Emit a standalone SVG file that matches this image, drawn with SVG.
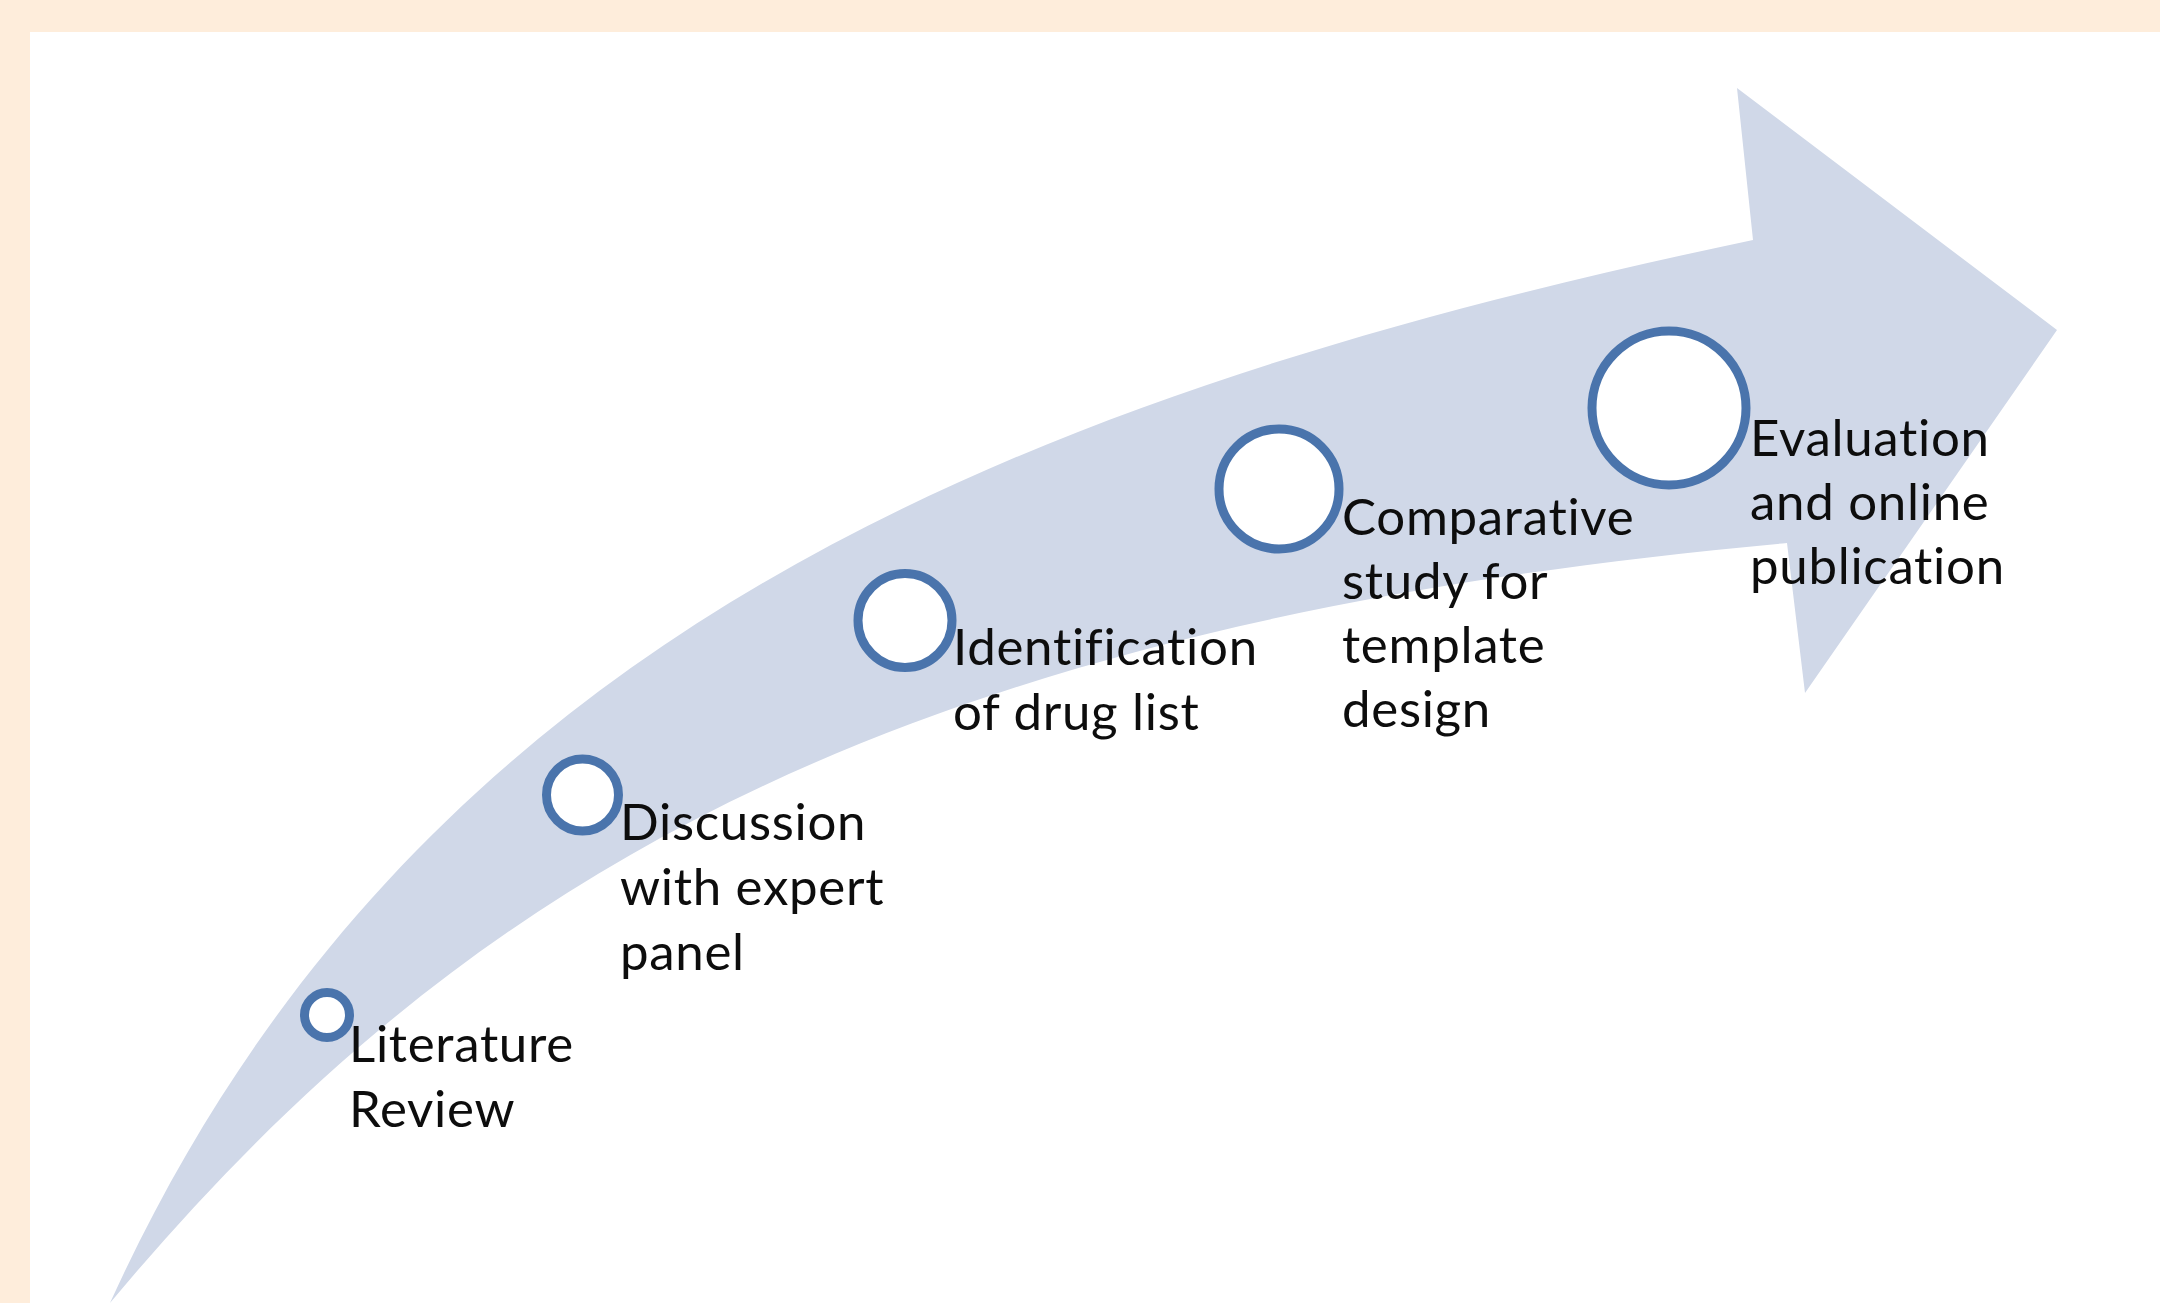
<svg xmlns="http://www.w3.org/2000/svg" width="2160" height="1303" viewBox="0 0 2160 1303">
  <style>
    .step { fill: #ffffff; stroke: #4a74ac; stroke-width: 9; }
    .label { font-family: Lato, "Liberation Sans", sans-serif; font-size: 51px; letter-spacing: 0.7px; font-variant-ligatures: none; fill: #0d0d0d; }
  </style>
  <rect x="0" y="0" width="2160" height="1303" fill="#feeddb"/>
  <rect x="30" y="32" width="2130" height="1271" fill="#ffffff"/>
  <g id="connectors">
    <path id="arrow" fill="#d0d8e8" d="M 110,1303 C 410,643 1003,397.5 1753,240 L 1737,88 L 2057,330 L 1805,693 L 1787,543 C 887,624 460,883 110,1303 Z"/>
  </g>
  <g id="node-literature">
    <circle class="step" cx="327" cy="1015" r="22.5" stroke-width="8"/>
    <text class="label" x="349" y="1062">Literature<tspan x="349" y="1127">Review</tspan></text>
  </g>
  <g id="node-discussion">
    <circle class="step" cx="582.5" cy="795" r="36"/>
    <text class="label" x="620" y="840">Discussion<tspan x="620" y="905">with expert</tspan><tspan x="620" y="970">panel</tspan></text>
  </g>
  <g id="node-identification">
    <circle class="step" cx="905" cy="620.5" r="47"/>
    <text class="label" x="953" y="665">Identification<tspan x="953" y="730">of drug list</tspan></text>
  </g>
  <g id="node-comparative">
    <circle class="step" cx="1279" cy="489" r="60"/>
    <text class="label" x="1342" y="535">Comparative<tspan x="1342" y="599">study for</tspan><tspan x="1342" y="663">template</tspan><tspan x="1342" y="727">design</tspan></text>
  </g>
  <g id="node-evaluation">
    <circle class="step" cx="1669" cy="408" r="77"/>
    <text class="label" x="1750" y="456">Evaluation<tspan x="1750" y="520">and online</tspan><tspan x="1750" y="584">publication</tspan></text>
  </g>
</svg>
